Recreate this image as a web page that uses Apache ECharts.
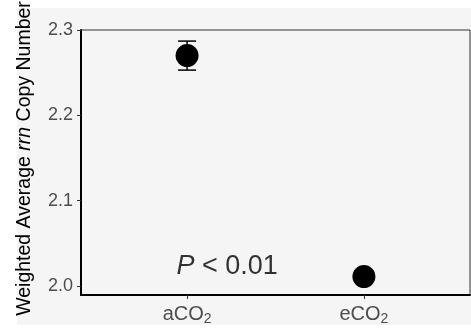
<!DOCTYPE html>
<html><head><meta charset="utf-8">
<script src="https://cdn.jsdelivr.net/npm/echarts@6/dist/echarts.min.js"></script>
<style>html,body{margin:0;padding:0;background:#fff}#c{width:471px;height:329px}</style>
</head><body><div id="c"></div>
<script>
var categories = ['aCO2', 'eCO2'];
var catPositions = [1, 2];
var means = [2.270, 2.011];
var errLow = [2.253, 2.011];
var errHigh = [2.287, 2.011];
var yTicks = [2.0, 2.1, 2.2, 2.3];
var annotation = {x: 1.226, y: 2.023, text: 'P < 0.01'};

var chart = echarts.init(document.getElementById('c'));
var font = 'Liberation Sans, Arial, sans-serif';
var pts = catPositions.map(function (x, i) { return [x, means[i]]; });
var errs = catPositions.map(function (x, i) { return [x, errLow[i], errHigh[i]]; });

chart.setOption({
  backgroundColor: '#ffffff',
  animation: false,
  graphic: [{
    type: 'rect', z: -10, silent: true,
    shape: {x: 17, y: 8, width: 454, height: 317},
    style: {fill: '#f5f5f5'}
  }],
  grid: {left: 81, right: 1, top: 30, bottom: 34, show: true, borderColor: '#333', borderWidth: 1, backgroundColor: 'transparent', containLabel: false, outerBoundsMode: 'none'},
  xAxis: {
    type: 'value', min: 0.4, max: 2.6,
    splitLine: {show: false},
    axisLine: {show: true, lineStyle: {color: '#000', width: 2}},
    axisTick: {show: true, length: 4, lineStyle: {color: '#333', width: 1}, customValues: catPositions},
    axisLabel: {
      customValues: catPositions, margin: 8,
      formatter: function (v) {
        var i = catPositions.indexOf(v);
        var name = categories[i] || '';
        return '{n|' + name.slice(0, -1) + '}{s|' + name.slice(-1) + '}';
      },
      rich: {
        n: {fontFamily: font, fontSize: 20, color: '#4d4d4d'},
        s: {fontFamily: font, fontSize: 14, color: '#4d4d4d', verticalAlign: 'bottom', padding: [9, 0, 0, 0]}
      }
    }
  },
  yAxis: {
    type: 'value', min: 1.9894, max: 2.3,
    splitLine: {show: false},
    axisLine: {show: true, lineStyle: {color: '#000', width: 2}},
    axisTick: {show: true, length: 4, lineStyle: {color: '#333', width: 1}, customValues: yTicks},
    axisLabel: {
      customValues: yTicks, margin: 8, fontFamily: font, fontSize: 18, color: '#4d4d4d',
      formatter: function (v) { return v.toFixed(1); }
    },
    name: '{a|Weighted Average }{i|rrn}{a| Copy Number}',
    nameLocation: 'middle', nameGap: 46, nameRotate: 90,
    nameTextStyle: {
      padding: [0, 0, 0, 8],
      rich: {
        a: {fontFamily: font, fontSize: 19.5, color: '#000'},
        i: {fontFamily: font, fontSize: 19.5, color: '#000', fontStyle: 'italic'}
      }
    }
  },
  series: [
    {
      type: 'custom',
      data: errs,
      z: 3,
      renderItem: function (params, api) {
        var x = api.value(0);
        var lo = api.coord([x, api.value(1)]);
        var hi = api.coord([x, api.value(2)]);
        var hw = 9;
        var st = {stroke: '#000', lineWidth: 1.5};
        return {type: 'group', children: [
          {type: 'line', shape: {x1: lo[0], y1: lo[1], x2: hi[0], y2: hi[1]}, style: st},
          {type: 'line', shape: {x1: lo[0] - hw, y1: lo[1], x2: lo[0] + hw, y2: lo[1]}, style: st},
          {type: 'line', shape: {x1: hi[0] - hw, y1: hi[1], x2: hi[0] + hw, y2: hi[1]}, style: st}
        ]};
      }
    },
    {
      type: 'scatter', data: pts, symbolSize: 23, z: 4,
      itemStyle: {color: '#000', opacity: 1}
    },
    {
      type: 'scatter', data: [[annotation.x, annotation.y]], symbolSize: 0, z: 5,
      label: {
        show: true, position: 'inside',
        formatter: '{i|P}{t| < 0.01}',
        rich: {
          i: {fontFamily: font, fontSize: 27, fontStyle: 'italic', color: '#000'},
          t: {fontFamily: font, fontSize: 27, color: '#000'}
        }
      }
    }
  ]
});
</script></body></html>
